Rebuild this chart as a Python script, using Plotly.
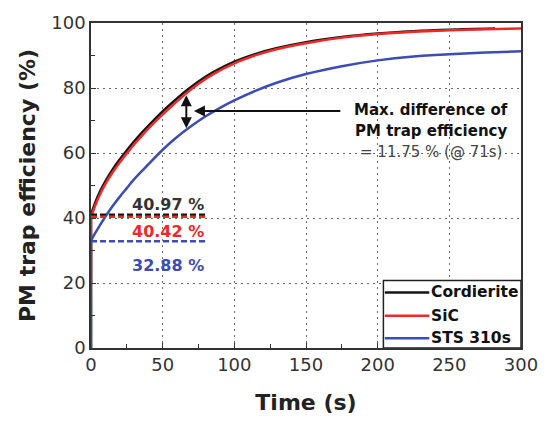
import plotly.graph_objects as go

# ---- data -------------------------------------------------------------
series_names = ["Cordierite", "SiC", "STS 310s"]
series_colors = ["#151515", "#f02828", "#3c4cb4"]

t_cordierite = [0, 0, 1, 3, 6, 10, 15, 20, 25, 30, 36, 42, 50, 58, 66, 75, 85,
                100, 115, 130, 150, 175, 200, 225, 250, 282]
eff_cordierite = [0, 40.97, 42.3, 44.8, 47.9, 51.3, 54.9, 58.0, 60.8, 63.5, 66.5,
                  69.3, 72.8, 76.0, 79.0, 82.0, 84.8, 88.1, 90.5, 92.3, 94.1,
                  95.7, 96.8, 97.5, 97.95, 98.3]

t_sic = [0, 0, 1, 3, 6, 10, 15, 20, 25, 30, 36, 42, 50, 58, 66, 75, 85, 100,
         115, 130, 150, 175, 200, 225, 250, 275, 300]
eff_sic = [20, 40.42, 41.5, 43.9, 47.0, 50.4, 54.0, 57.1, 59.9, 62.6, 65.6, 68.4,
           71.9, 75.1, 78.2, 81.3, 84.2, 87.6, 90.1, 92.0, 93.8, 95.5, 96.6,
           97.3, 97.8, 98.1, 98.3]

t_sts = [0, 0, 1, 3, 6, 10, 15, 20, 25, 30, 40, 50, 60, 70, 80, 90, 100, 115,
         130, 150, 175, 200, 225, 250, 275, 300]
eff_sts = [0, 32.88, 33.9, 35.4, 37.6, 40.4, 43.6, 46.5, 49.2, 51.9, 56.5, 61.0,
           64.9, 68.3, 71.3, 73.9, 76.2, 79.2, 81.7, 84.3, 86.7, 88.5, 89.7,
           90.4, 90.9, 91.3]

# initial efficiencies marked with dashed reference lines
initial_values = [40.97, 40.42, 32.88]
initial_labels = ["40.97 %", "40.42 %", "32.88 %"]
initial_label_colors = ["#333333", "#f02828", "#3c4cb4"]
initial_label_y = [44.3, 35.9, 25.5]
marker_span = [0, 80]

# maximum-difference marker
max_diff_t = 66.5
max_diff_low, max_diff_high = 67.6, 78.2
diff_text = ["Max. difference of", "PM trap efficiency", "= 11.75 % (@ 71s)"]

x_ticks = [0, 50, 100, 150, 200, 250, 300]
y_ticks = [0, 20, 40, 60, 80, 100]

FONT = "DejaVu Sans"

fig = go.Figure()

curves = [(t_cordierite, eff_cordierite), (t_sic, eff_sic), (t_sts, eff_sts)]
for (tx, ty), name, col in zip(curves, series_names, series_colors):
    # vertical start-up step drawn straight, the rest smoothed
    fig.add_trace(go.Scatter(x=tx[:2], y=ty[:2], mode="lines",
                             line=dict(color=col, width=2.5), showlegend=False,
                             hoverinfo="skip"))
    fig.add_trace(go.Scatter(x=tx[1:], y=ty[1:], mode="lines", name=name,
                             line=dict(color=col, width=2.5, shape="spline",
                                       smoothing=1.0),
                             showlegend=False))

for v, col in zip(initial_values, series_colors):
    fig.add_trace(go.Scatter(x=marker_span, y=[v, v], mode="lines",
                             line=dict(color=col, width=2.5, dash="6px,3px"),
                             showlegend=False, hoverinfo="skip"))

annotations = []
for lab, col, ly in zip(initial_labels, initial_label_colors, initial_label_y):
    annotations.append(dict(x=marker_span[1], y=ly, xref="x", yref="y",
                            text=lab, showarrow=False, xanchor="right",
                            font=dict(family=FONT, size=16, color=col, weight="bold")))

# vertical double arrow at the max difference
annotations.append(dict(x=max_diff_t, y=max_diff_low, ax=max_diff_t, ay=max_diff_high,
                        xref="x", yref="y", axref="x", ayref="y", text="",
                        showarrow=True, arrowhead=2, arrowside="end+start",
                        arrowsize=1.1, arrowwidth=2, arrowcolor="#111111",
                        standoff=0, startstandoff=0))
# pointer arrow from the note
annotations.append(dict(x=71.8, y=72.9, ax=175, ay=72.9,
                        xref="x", yref="y", axref="x", ayref="y", text="",
                        showarrow=True, arrowhead=2, arrowsize=1.1,
                        arrowwidth=2, arrowcolor="#111111", standoff=0))

note_y = [73.2, 66.8, 60.3]
note_style = [("#111111", "bold"), ("#111111", "bold"), ("#444444", "normal")]
for txt, ny, (col, wt) in zip(diff_text, note_y, note_style):
    annotations.append(dict(x=237, y=ny, xref="x", yref="y", text=txt,
                            showarrow=False, xanchor="center",
                            font=dict(family=FONT, size=15, color=col, weight=wt)))

# legend box drawn in data units
shapes = [dict(type="rect", xref="x", yref="y", x0=204, x1=300, y0=0, y1=20.8,
               line=dict(color="#222222", width=1.5), fillcolor="white", layer="above")]
legend_rows = [17.1, 9.9, 3.0]
for name, col, ry in zip(series_names, series_colors, legend_rows):
    shapes.append(dict(type="line", xref="x", yref="y", x0=205, x1=236, y0=ry, y1=ry,
                       line=dict(color=col, width=2.5), layer="above"))
    annotations.append(dict(x=236, y=ry, xref="x", yref="y", text=name,
                            showarrow=False, xanchor="left",
                            font=dict(family=FONT, size=15.5, color="#111111",
                                      weight="bold")))

axis_common = dict(showline=True, linecolor="#333333", linewidth=1.5, mirror=True,
                   ticks="inside", ticklen=5, tickwidth=1.2, tickcolor="#333333",
                   showgrid=True, gridcolor="#6a6a6a", gridwidth=1, griddash="2px,4px",
                   zeroline=False,
                   tickfont=dict(family=FONT, size=18, color="#333333"))

fig.update_layout(
    width=550, height=423,
    margin=dict(l=91, r=26, t=20, b=72),
    paper_bgcolor="white", plot_bgcolor="white",
    showlegend=False,
    annotations=annotations,
    shapes=shapes,
    xaxis=dict(range=[0, 300], tickvals=x_ticks,
               minor=dict(dtick=25, tick0=0, ticks="inside", ticklen=4,
                          tickcolor="#333333", showgrid=False),
               title=dict(text="Time (s)", standoff=20,
                          font=dict(family=FONT, size=22, color="#222222", weight="bold")),
               **axis_common),
    yaxis=dict(range=[0, 100], tickvals=y_ticks,
               minor=dict(dtick=10, tick0=0, ticks="inside", ticklen=4,
                          tickcolor="#333333", showgrid=False),
               title=dict(text="PM trap efficiency (%)", standoff=10,
                          font=dict(family=FONT, size=22, color="#222222", weight="bold")),
               **axis_common),
)

fig.write_html("out.html")
